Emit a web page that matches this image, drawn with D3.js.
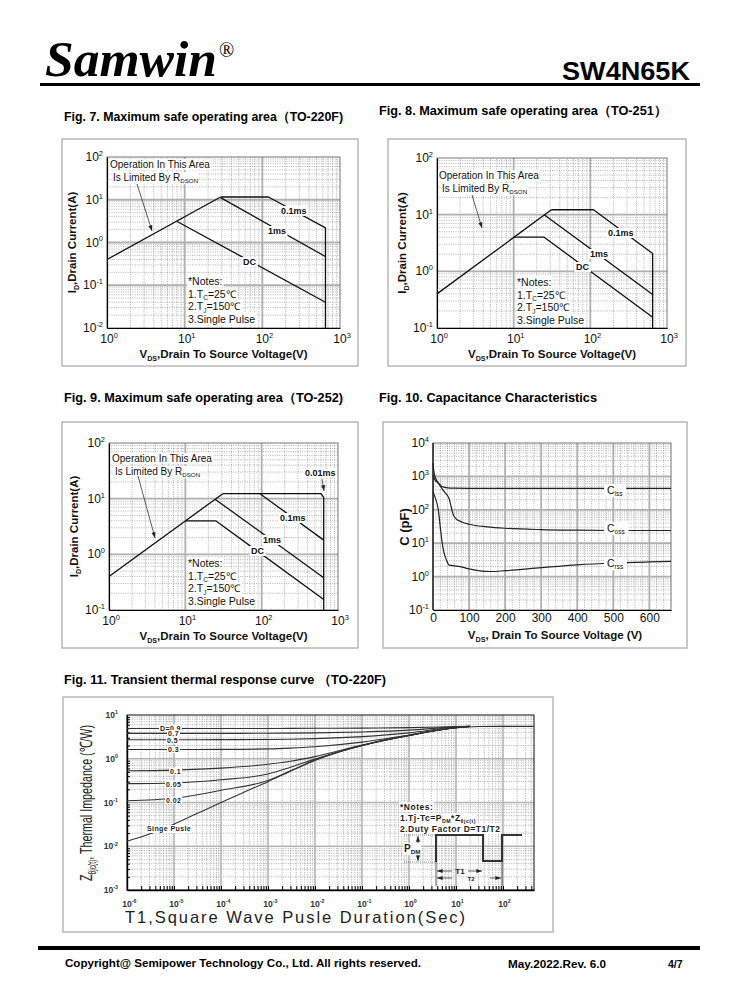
<!DOCTYPE html>
<html><head><meta charset="utf-8">
<script src="https://cdn.jsdelivr.net/npm/d3@7"></script>
<style>body{margin:0;background:#fff}svg{display:block}text{font-family:"Liberation Sans",Arial,sans-serif}</style>
</head><body><svg id="page" width="738" height="1000"></svg>
<script>
// ---------------- DATA ----------------
// Fig 7 (TO-220F) SOA  [VDS (V), ID (A)]
const fig7Rds = [[1,0.4],[29,11.6]];
const fig7P01 = [[29,11.6],[120,11.6],[650,2.2],[650,0.01]];
const fig7P1 = [[29,11.2],[650,0.47]];
const fig7DC = [[8,3.1],[650,0.04]];
// Fig 8 (TO-251) SOA
const fig8Rds = [[1,0.4],[31,12.2]];
const fig8P01 = [[31,12.2],[110,12.2],[650,2.07],[650,0.1]];
const fig8P1 = [[25,10],[650,0.39]];
const fig8DC = [[10,4],[25,4],[650,0.155]];
// Fig 9 (TO-252) SOA
const fig9Rds = [[1,0.4],[31,12.3]];
const fig9P001 = [[31,12.3],[600,12.3],[650,10.5],[650,0.1]];
const fig9P01 = [[95,12.3],[650,1.8]];
const fig9P1 = [[24.5,9.8],[650,0.38]];
const fig9DC = [[10,4],[25,4],[650,0.155]];
// Fig 10 capacitance [VDS (V), C (pF)]
const ciss = [[0,2500],[3,1300],[8,850],[15,640],[25,500],[40,455],[60,445],[100,440],[660,440]];
const coss = [[0,1100],[5,800],[15,620],[25,430],[35,310],[45,210],[50,130],[55,78],[62,56],[80,43],[100,37],[150,31],[200,28],[300,25.5],[400,24.5],[500,24],[660,24]];
const crss = [[0,350],[5,250],[10,170],[15,95],[20,32],[25,11],[30,5.5],[38,3],[45,2.2],[60,2.1],[75,2.0],[100,1.7],[130,1.48],[160,1.42],[200,1.5],[300,1.85],[400,2.25],[500,2.55],[600,2.75],[660,2.85]];
const capAxisV = [0,100,200,300,400,500,600];
const capLabels = ["C","C","C"];
const capSubs = ["iss","oss","rss"];
// Fig 11 transient thermal impedance [t (s), Z (C/W)]
const thermT = [1e-6,1e-5,1e-4,1e-3,3e-3,1e-2,1e-1,1,10,20];
const zD09 = [4.9,4.9,4.9,4.92,4.94,4.96,5.02,5.15,5.42,5.5];
const zD07 = [3.8,3.8,3.8,3.83,3.86,3.9,4.1,4.5,5.35,5.5];
const zD05 = [2.72,2.72,2.73,2.76,2.8,2.88,3.2,3.9,5.3,5.5];
const zD03 = [1.63,1.63,1.64,1.68,1.75,1.88,2.4,3.5,5.2,5.5];
const zD01 = [0.53,0.55,0.61,0.75,0.88,1.12,2.05,3.4,5.1,5.45];
const zD005 = [0.27,0.28,0.33,0.45,0.64,0.98,2.0,3.4,5.1,5.45];
const zD002 = [0.11,0.125,0.19,0.32,0.53,0.93,2.0,3.4,5.1,5.45];
const singleT = [1e-6,3e-6,1e-5,3e-5,1e-4,3e-4,1e-3,3e-3,1e-2,3e-2,1e-1,3e-1,1,3,10,30,100,450];
const zSingle = [0.013,0.019,0.032,0.055,0.1,0.17,0.3,0.52,0.92,1.4,2.0,2.7,3.4,4.3,5.1,5.45,5.5,5.5];
const dutyLabels = ["D=0.9","0.7","0.5","0.3","0.1","0.05","0.02"];
const thermExps = ["-6","-5","-4","-3","-2","-1","0","1","2"];

// ---------------- HELPERS ----------------
const svg = d3.select('#page');
const INK = '#111';

function rich(g, x, y, parts, fs, weight, anchor) {
  const t = g.append('text').attr('x', x).attr('y', y).attr('font-size', fs)
    .attr('font-weight', weight || 'normal').attr('text-anchor', anchor || 'start').attr('fill', INK);
  let shift = 0;
  parts.forEach(p => {
    const s = typeof p === 'string' ? p : p[0];
    const kind = typeof p === 'string' ? null : p[1];
    const target = kind === 'sub' ? fs * 0.22 : kind === 'sup' ? -fs * 0.42 : 0;
    const ts = t.append('tspan').text(s).attr('dy', target - shift);
    if (kind) ts.attr('font-size', fs * 0.62);
    shift = target;
  });
  return t;
}
function whiteBg(g, t, pad) {
  const b = t.node().getBBox();
  pad = pad == null ? 1 : pad;
  g.insert('rect', () => t.node()).attr('x', b.x - pad).attr('y', b.y).attr('width', b.width + 2 * pad)
    .attr('height', b.height).attr('fill', '#fff');
}
function pow10(g, x, y, exp, fs, anchor) {
  const t = g.append('text').attr('y', y).attr('font-size', fs).attr('fill', INK)
    .attr('text-anchor', anchor === 'end' ? 'end' : 'start')
    .attr('x', anchor === 'end' ? x : x - fs * 0.556);
  t.append('tspan').text('10');
  t.append('tspan').attr('dy', -fs * 0.42).attr('font-size', fs * 0.62).text(exp);
  return t;
}
function logMajor(dom) { const o = []; for (let e = Math.ceil(Math.log10(dom[0]) - 1e-9); e <= Math.floor(Math.log10(dom[1]) + 1e-9); e++) o.push(Math.pow(10, e)); return o; }
function logMinor(dom) { const o = []; for (let e = Math.floor(Math.log10(dom[0])); e <= Math.ceil(Math.log10(dom[1])); e++) for (let k = 2; k <= 9; k++) { const v = k * Math.pow(10, e); if (v > dom[0] * 1.0001 && v < dom[1] * 0.9999) o.push(v); } return o; }
function gridLines(g, x, y, xv, yv, st) {
  g.append('g').selectAll('line').data(xv).join('line')
    .attr('x1', d => x(d)).attr('x2', d => x(d)).attr('y1', y.range()[0]).attr('y2', y.range()[1])
    .attr('stroke', st.c).attr('stroke-width', st.w).attr('stroke-dasharray', st.d || null);
  g.append('g').selectAll('line').data(yv).join('line')
    .attr('y1', d => y(d)).attr('y2', d => y(d)).attr('x1', x.range()[0]).attr('x2', x.range()[1])
    .attr('stroke', st.c).attr('stroke-width', st.w).attr('stroke-dasharray', st.d || null);
}
const MINOR = {c: '#7d7d7d', w: 0.6, d: '1,1.3'};
const MAJOR = {c: '#b0b0b0', w: 1.8};
function frame(x0, y0, x1, y1) {
  svg.append('rect').attr('x', x0).attr('y', y0).attr('width', x1 - x0).attr('height', y1 - y0)
    .attr('fill', '#fff').attr('stroke', '#b8b8b8').attr('stroke-width', 1.5);
}
function pathOf(g, x, y, pts, w, c) {
  return g.append('path').attr('d', d3.line().x(d => x(d[0])).y(d => y(d[1]))(pts))
    .attr('fill', 'none').attr('stroke', c || INK).attr('stroke-width', w || 1.3).attr('stroke-linejoin', 'round');
}
function arrow(g, x1, y1, x2, y2) {
  g.append('line').attr('x1', x1).attr('y1', y1).attr('x2', x2).attr('y2', y2).attr('stroke', '#333').attr('stroke-width', 0.8);
  const a = Math.atan2(y2 - y1, x2 - x1), L = 6, s = 0.35;
  g.append('path').attr('d', `M${x2},${y2}L${x2 - L * Math.cos(a - s)},${y2 - L * Math.sin(a - s)}L${x2 - L * Math.cos(a + s)},${y2 - L * Math.sin(a + s)}Z`).attr('fill', '#222');
}

// ---------------- PAGE HEADER / FOOTER ----------------
svg.append('text').attr('x', 45).attr('y', 76)
  .style('font-family', '"Liberation Serif","Times New Roman",serif')
  .attr('font-size', 50).attr('font-weight', 'bold').attr('font-style', 'italic').attr('fill', '#000')
  .attr('textLength', 172).attr('lengthAdjust', 'spacingAndGlyphs').text('Samwin');
svg.append('text').attr('x', 219).attr('y', 57).style('font-family', '"Liberation Serif",serif').attr('font-size', 20).attr('fill', '#000').text('®');
svg.append('text').attr('x', 690).attr('y', 80).attr('text-anchor', 'end').attr('font-size', 25).attr('font-weight', 'bold')
  .attr('fill', '#000').attr('textLength', 128).attr('lengthAdjust', 'spacingAndGlyphs').text('SW4N65K');
svg.append('rect').attr('x', 40).attr('y', 83).attr('width', 660).attr('height', 3).attr('fill', '#000');

function figTitle(x, y, len, s) {
  svg.append('text').attr('x', x).attr('y', y).attr('font-size', 12.5).attr('font-weight', 'bold').attr('fill', '#000')
    .attr('textLength', len).attr('lengthAdjust', 'spacingAndGlyphs').text(s);
}
figTitle(64, 121, 279, 'Fig. 7. Maximum safe operating area（TO-220F)');
figTitle(379, 115, 288, 'Fig. 8. Maximum safe operating area（TO-251）');
figTitle(64, 402, 279, 'Fig. 9. Maximum safe operating area（TO-252)');
figTitle(379, 402, 218, 'Fig. 10. Capacitance Characteristics');
figTitle(64, 684, 322, 'Fig. 11. Transient thermal response curve  （TO-220F)');

svg.append('rect').attr('x', 38).attr('y', 946).attr('width', 662).attr('height', 4).attr('fill', '#000');
svg.append('text').attr('x', 65).attr('y', 967).attr('font-size', 11.5).attr('font-weight', 'bold').attr('fill', '#000')
  .attr('textLength', 356).attr('lengthAdjust', 'spacingAndGlyphs').text('Copyright@ Semipower Technology Co., Ltd. All rights reserved.');
svg.append('text').attr('x', 508).attr('y', 968).attr('font-size', 10.5).attr('font-weight', 'bold').attr('fill', '#000')
  .attr('textLength', 98).attr('lengthAdjust', 'spacingAndGlyphs').text('May.2022.Rev. 6.0');
svg.append('text').attr('x', 668).attr('y', 968).attr('font-size', 10.5).attr('font-weight', 'bold').attr('fill', '#000').text('4/7');

// ---------------- SOA CHARTS ----------------
function soa(o) {
  frame(...o.frame);
  const [px0, py0, px1, py1] = o.plot;
  const g = svg.append('g');
  const x = d3.scaleLog().domain([1, 1000]).range([px0, px1]);
  const y = d3.scaleLog().domain(o.yDom).range([py1, py0]);
  gridLines(g, x, y, logMinor(x.domain()), logMinor(y.domain()), MINOR);
  gridLines(g, x, y, logMajor(x.domain()).slice(1, -1), logMajor(y.domain()).slice(1, -1), MAJOR);
  g.append('rect').attr('x', px0).attr('y', py0).attr('width', px1 - px0).attr('height', py1 - py0).attr('fill', 'none').attr('stroke', '#555').attr('stroke-width', 0.8);
  g.append('g').attr('transform', `translate(0,${py1})`).call(d3.axisBottom(x).tickValues([]).tickSizeOuter(0)).select('.domain').attr('stroke', '#000').attr('stroke-width', 1.2);
  g.append('g').attr('transform', `translate(${px0},0)`).call(d3.axisLeft(y).tickValues([]).tickSizeOuter(0)).select('.domain').attr('stroke', '#000').attr('stroke-width', 1.2);
  o.lines.forEach(l => pathOf(g, x, y, l));
  logMajor(x.domain()).forEach(v => pow10(g, x(v), py1 + 15, String(Math.round(Math.log10(v))), 12, 'mid'));
  logMajor(y.domain()).forEach(v => pow10(g, px0 - 4, y(v) + 4, String(Math.round(Math.log10(v))), 12, 'end'));
  rich(g, (px0 + px1) / 2, py1 + 30, ['V', ['DS', 'sub'], ',Drain To Source Voltage(V)'], 11.5, 'bold', 'middle');
  const yt = g.append('g').attr('transform', `translate(${px0 - 31},${(py0 + py1) / 2}) rotate(-90)`);
  rich(yt, 0, 0, ['I', ['D', 'sub'], ',Drain Current(A)'], 11.5, 'bold', 'middle');
  const [ax, ay] = o.rdsText;
  const t1 = rich(g, ax, ay, ['Operation In This Area'], 10, 'normal'); whiteBg(g, t1);
  const t2 = rich(g, ax + 3, ay + 13, ['Is Limited By R', ['DSON', 'sub']], 10, 'normal'); whiteBg(g, t2);
  arrow(g, ...o.arrow);
  const [nx, ny] = o.notes;
  [['*Notes:'], ['1.T', ['C', 'sub'], '=25℃'], ['2.T', ['J', 'sub'], '=150℃'], ['3.Single Pulse']].forEach((p, i) => {
    const t = rich(g, nx, ny + i * 12.6, p, 10.5, 'normal'); whiteBg(g, t);
  });
  o.labels.forEach(([s, lx, ly]) => { const t = rich(g, lx, ly, [s], 9, 'bold'); whiteBg(g, t, 1.5); });
  if (o.extra) o.extra(g, x, y);
}

soa({frame: [62, 139, 358, 366], plot: [107, 157, 340, 328], yDom: [0.01, 100],
  lines: [fig7Rds, fig7P01, fig7P1, fig7DC], rdsText: [110, 168], arrow: [137, 184, 152, 231],
  notes: [188, 285], labels: [['0.1ms', 281, 214], ['1ms', 268, 234], ['DC', 243, 265]]});
soa({frame: [388, 139, 686, 366], plot: [437, 158, 667, 328], yDom: [0.1, 100],
  lines: [fig8Rds, fig8P01, fig8P1, fig8DC], rdsText: [439, 179], arrow: [472, 195, 482, 228],
  notes: [517, 286], labels: [['0.1ms', 608, 236], ['1ms', 590, 257], ['DC', 576, 270]]});
soa({frame: [62, 422, 358, 648], plot: [109, 443, 338, 610], yDom: [0.1, 100],
  lines: [fig9Rds, fig9P001, fig9P01, fig9P1, fig9DC], rdsText: [112, 462], arrow: [138, 476, 155, 538],
  notes: [188, 567], labels: [['0.01ms', 305, 476], ['0.1ms', 280, 521], ['1ms', 263, 543], ['DC', 251, 554]],
  extra: (g) => arrow(g, 322, 479, 324, 491)});

// ---------------- CAPACITANCE CHART ----------------
(function () {
  frame(383, 422, 687, 648);
  const [px0, py0, px1, py1] = [433, 443, 671, 610];
  const g = svg.append('g');
  const x = d3.scaleLinear().domain([0, 660]).range([px0, px1]);
  const y = d3.scaleLog().domain([0.1, 10000]).range([py1, py0]);
  gridLines(g, x, y, d3.range(20, 660, 20).filter(v => v % 100), logMinor(y.domain()), MINOR);
  gridLines(g, x, y, capAxisV.slice(1), logMajor(y.domain()).slice(1, -1), MAJOR);
  g.append('rect').attr('x', px0).attr('y', py0).attr('width', px1 - px0).attr('height', py1 - py0).attr('fill', 'none').attr('stroke', '#555').attr('stroke-width', 0.8);
  const ax = g.append('g').attr('transform', `translate(0,${py1})`).call(d3.axisBottom(x).tickValues(capAxisV).tickSize(0).tickSizeOuter(0).tickPadding(3));
  ax.select('.domain').attr('stroke', '#000').attr('stroke-width', 1.2);
  ax.selectAll('text').attr('font-size', 12).attr('fill', INK).style('font-family', '"Liberation Sans",Arial,sans-serif');
  g.append('line').attr('x1', px0).attr('x2', px0).attr('y1', py0).attr('y2', py1).attr('stroke', '#000').attr('stroke-width', 1.2);
  const lc = d3.line().x(d => x(d[0])).y(d => y(d[1])).curve(d3.curveMonotoneX);
  [ciss, coss, crss].forEach(s => g.append('path').attr('d', lc(s)).attr('fill', 'none').attr('stroke', '#222').attr('stroke-width', 1.2));
  logMajor(y.domain()).forEach(v => pow10(g, px0 - 4, y(v) + 4, String(Math.round(Math.log10(v))), 12, 'end'));
  [[607, 494], [607, 532], [607, 567]].forEach(([lx, ly], i) => {
    const t = rich(g, lx, ly, [capLabels[i], [capSubs[i], 'sub']], 10.5, 'normal'); whiteBg(g, t, 3);
  });
  rich(g, (px0 + px1) / 2 + 3, 639, ['V', ['DS', 'sub'], ', Drain To Source Voltage (V)'], 11.5, 'bold', 'middle');
  const yt = g.append('g').attr('transform', `translate(409,527) rotate(-90)`);
  rich(yt, 0, 0, ['C (pF)'], 13, 'bold', 'middle');
})();

// ---------------- THERMAL CHART ----------------
(function () {
  frame(63, 697, 553, 932);
  const [px0, py0, px1, py1] = [127, 715, 534, 890];
  const g = svg.append('g');
  const x = d3.scaleLog().domain([1e-6, Math.pow(10, 2 + (534 - 503) / 47)]).range([px0, px1]);
  const y = d3.scaleLog().domain([1e-3, 10]).range([py1, py0]);
  gridLines(g, x, y, logMinor(x.domain()), logMinor(y.domain()), {c: '#8a8a8a', w: 0.6, d: '1.2,1.2'});
  gridLines(g, x, y, logMajor(x.domain()).slice(1), logMajor(y.domain()).slice(1, -1), {c: '#b4b4b4', w: 1.6});
  g.append('rect').attr('x', px0).attr('y', py0).attr('width', px1 - px0).attr('height', py1 - py0).attr('fill', 'none').attr('stroke', '#222').attr('stroke-width', 1.1);
  g.append('g').attr('transform', `translate(0,${py1})`).call(d3.axisTop(x).tickValues(logMinor(x.domain()).concat(logMajor(x.domain()))).tickFormat('').tickSize(4).tickSizeOuter(0))
    .call(s => s.select('.domain').attr('stroke', '#000').attr('stroke-width', 1.4));
  g.append('g').attr('transform', `translate(${px0},0)`).call(d3.axisRight(y).tickValues(logMinor(y.domain())).tickFormat('').tickSize(3).tickSizeOuter(0))
    .call(s => s.select('.domain').attr('stroke', '#000').attr('stroke-width', 1.4));
  const lc = d3.line().x(d => x(d[0])).y(d => y(d[1])).curve(d3.curveMonotoneX);
  [zD09, zD07, zD05, zD03, zD01, zD005, zD002].forEach(arr =>
    g.append('path').attr('d', lc(thermT.map((t, i) => [t, arr[i]]))).attr('fill', 'none').attr('stroke', '#333').attr('stroke-width', 1.1));
  g.append('path').attr('d', lc(singleT.map((t, i) => [t, zSingle[i]]))).attr('fill', 'none').attr('stroke', '#333').attr('stroke-width', 1.1);
  const lpos = [[160, 730.5], [168, 736], [167, 742.5], [168, 752], [170, 773.5], [166, 786.5], [166, 803]];
  dutyLabels.forEach((s, i) => {
    const t = g.append('text').attr('x', lpos[i][0]).attr('y', lpos[i][1]).attr('font-size', 7).attr('font-weight', 'bold').attr('fill', '#222').attr('letter-spacing', 0.4).text(s);
    whiteBg(g, t, 1);
  });
  const ts = g.append('text').attr('x', 147).attr('y', 831).attr('font-size', 7).attr('font-weight', 'bold').attr('fill', '#222').attr('letter-spacing', 0.4).text('Singe Pusle');
  whiteBg(g, ts, 1);
  logMajor(x.domain()).forEach((v, i) => pow10(g, x(v), 907, thermExps[i], 8.5, 'mid').attr('font-weight', 'bold').attr('fill', '#333'));
  logMajor(y.domain()).forEach(v => pow10(g, px0 - 9, y(v) + 3, String(Math.round(Math.log10(v))), 8.5, 'end').attr('font-weight', 'bold').attr('fill', '#333'));
  g.append('text').attr('x', 125).attr('y', 923).attr('font-size', 16.5).attr('fill', '#222').attr('textLength', 340).attr('lengthAdjust', 'spacing').text('T1,Square Wave Pusle Duration(Sec)');
  const yt = g.append('g').attr('transform', `translate(92,803) rotate(-90)`);
  const tt = rich(yt, 0, 0, ['Z', ['θjc(t)', 'sub'], ', Thermal Impedance (℃/W)'], 17, 'normal', 'middle');
  tt.attr('textLength', 156).attr('lengthAdjust', 'spacingAndGlyphs').attr('fill', '#222');
  const nl = [['*Notes:'], ['1.Tj-Tc=P', ['DM', 'sub'], '*Z', ['θjc(t)', 'sub']], ['2.Duty Factor D=T1/T2']];
  nl.forEach((p, i) => { const t = rich(g, 400, 810 + i * 11, p, 8.5, 'bold').attr('letter-spacing', 0.5).attr('fill', '#222'); whiteBg(g, t, 1); });
  const pw = g.append('g').attr('stroke', '#333').attr('fill', 'none');
  pw.append('path').attr('d', 'M436,862V835H483V861H502V835H522').attr('stroke-width', 2);
  pw.append('path').attr('d', 'M404,835H436M404,862H436').attr('stroke-width', 0.6).attr('stroke-dasharray', '1,1');
  pw.append('path').attr('d', 'M436,862V886M502,862V886').attr('stroke-width', 0.8);
  arrow(g, 418, 848, 418, 836); arrow(g, 418, 850, 418, 861);
  arrow(g, 452, 871, 437, 871); arrow(g, 468, 871, 482, 871);
  arrow(g, 452, 878, 437, 878); arrow(g, 490, 878, 501, 878);
  const pdm = rich(g, 404, 852, ['P', ['DM', 'sub']], 10, 'bold'); pdm.attr('fill', '#222');
  whiteBg(g, pdm, 1);
  g.append('text').attr('x', 460).attr('y', 874).attr('text-anchor', 'middle').attr('font-size', 8).attr('font-weight', 'bold').attr('fill', '#222').text('T1');
  g.append('text').attr('x', 471).attr('y', 881).attr('text-anchor', 'middle').attr('font-size', 6).attr('font-weight', 'bold').attr('fill', '#222').text('T2');
})();
</script></body></html>
